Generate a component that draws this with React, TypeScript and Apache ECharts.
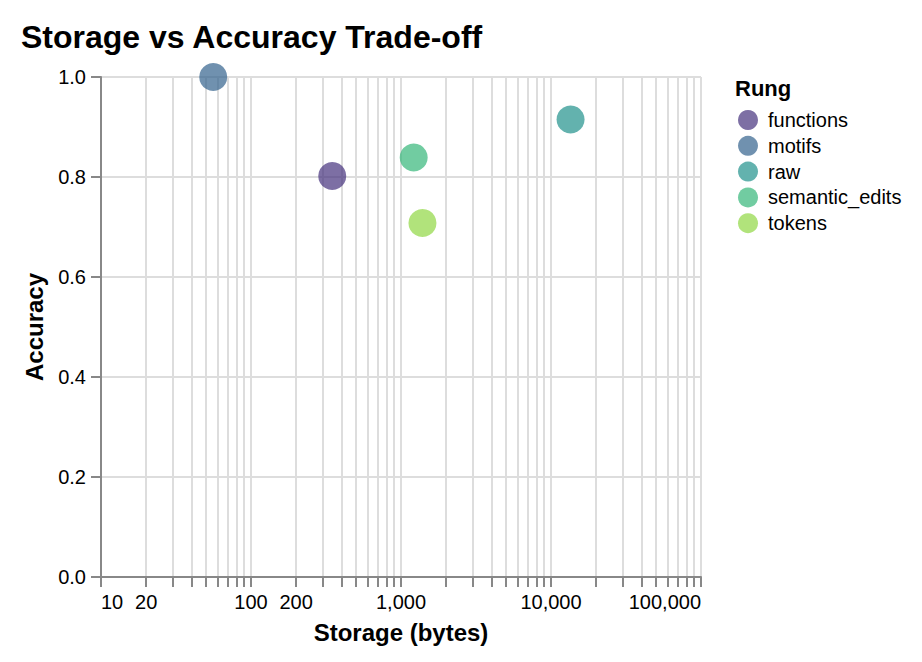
import React, { useEffect, useRef } from "react";
import * as echarts from "echarts";

const rungs = ["functions", "motifs", "raw", "semantic_edits", "tokens"];
const storageBytes = [348, 56, 13500, 1215, 1390];
const accuracy = [0.802, 1.0, 0.915, 0.839, 0.708];
const rungColors = ["#46327e", "#33638d", "#21918c", "#35b779", "#90d743"];

const xTickValues = [
  10, 20, 30, 40, 50, 60, 70, 80, 90,
  100, 200, 300, 400, 500, 600, 700, 800, 900,
  1000, 2000, 3000, 4000, 5000, 6000, 7000, 8000, 9000,
  10000, 20000, 30000, 40000, 50000, 60000, 70000, 80000, 90000,
  100000,
];
const xTickLabels = [10, 20, 100, 200, 1000, 10000, 100000];
const xDomain = [10, 100000];
const yDomain = [0, 1];
const yInterval = 0.2;

const FONT = "Liberation Sans, Arial, Helvetica, sans-serif";

export default function App() {
  const ref = useRef<HTMLDivElement>(null);

  useEffect(() => {
    if (!ref.current) return;
    const chart = echarts.init(ref.current, undefined, { renderer: "svg" });
    const lg = (v: number) => Math.log10(v);

    const option: any = {
      animation: false,
      backgroundColor: "#ffffff",
      textStyle: { fontFamily: FONT },
      title: [
        {
          text: "Storage vs Accuracy Trade-off",
          left: 21,
          top: 21,
          padding: 0,
          textStyle: { fontFamily: FONT, fontSize: 32, fontWeight: "bold", color: "#000" },
        },
        {
          text: "Rung",
          left: 735,
          top: 77,
          padding: 0,
          textStyle: { fontFamily: FONT, fontSize: 22, fontWeight: "bold", color: "#000" },
        },
      ],
      legend: {
        orient: "vertical",
        left: 738,
        top: 110,
        padding: 0,
        itemWidth: 30,
        itemHeight: 20,
        itemGap: 5.8,
        icon: "circle",
        symbolKeepAspect: true,
        selectedMode: false,
        textStyle: { fontFamily: FONT, fontSize: 20, color: "#000" },
        data: rungs.map((r, i) => ({
          name: r,
          itemStyle: { color: rungColors[i], opacity: 0.7 },
        })),
      },
      grid: {
        left: 101,
        top: 77,
        width: 600,
        height: 500,
        containLabel: false,
        outerBoundsMode: "none",
      },
      xAxis: {
        type: "value",
        min: lg(xDomain[0]),
        max: lg(xDomain[1]),
        name: "Storage (bytes)",
        nameLocation: "middle",
        nameGap: 43,
        nameTextStyle: { fontFamily: FONT, fontSize: 24, fontWeight: "bold", color: "#000" },
        axisLine: { onZero: false, lineStyle: { color: "#888", width: 2 } },
        axisTick: {
          show: true,
          length: 10,
          lineStyle: { color: "#888", width: 2 },
          customValues: xTickValues.map(lg),
        },
        axisLabel: {
          margin: 15,
          fontFamily: FONT,
          fontSize: 20,
          color: "#000",
          customValues: xTickLabels.map(lg),
          alignMinLabel: "left",
          alignMaxLabel: "right",
          formatter: (v: number) => Math.round(Math.pow(10, v)).toLocaleString("en-US"),
        },
        splitLine: { show: true, lineStyle: { color: "#ddd", width: 2 } },
      },
      yAxis: {
        type: "value",
        min: yDomain[0],
        max: yDomain[1],
        interval: yInterval,
        name: "Accuracy",
        nameLocation: "middle",
        nameGap: 55,
        nameTextStyle: { fontFamily: FONT, fontSize: 24, fontWeight: "bold", color: "#000" },
        axisLine: { show: true, onZero: false, lineStyle: { color: "#888", width: 2 } },
        axisTick: { show: true, length: 10, lineStyle: { color: "#888", width: 2 } },
        axisLabel: {
          margin: 15,
          fontFamily: FONT,
          fontSize: 20,
          color: "#000",
          formatter: (v: number) => v.toFixed(1),
        },
        splitLine: { show: true, lineStyle: { color: "#ddd", width: 2 } },
      },
      series: rungs.map((r, i) => ({
        name: r,
        type: "scatter",
        symbol: "circle",
        symbolSize: 28,
        itemStyle: { color: rungColors[i], opacity: 0.7 },
        data: [[lg(storageBytes[i]), accuracy[i]]],
      })),
    };

    chart.setOption(option);
    return () => chart.dispose();
  }, []);

  return (
    <div
      ref={ref}
      style={{ position: "fixed", left: 0, top: 0, width: 922, height: 662 }}
    />
  );
}
